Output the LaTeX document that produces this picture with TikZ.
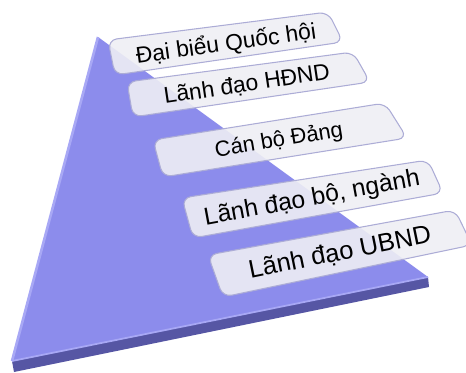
\documentclass[tikz,border=0pt]{standalone}
\usepackage{fontspec}
\setmainfont{Liberation Sans}
\definecolor{face}{RGB}{140,140,236}
\definecolor{facelight}{RGB}{168,168,245}
\definecolor{edge}{RGB}{86,86,164}
\definecolor{boxfill}{RGB}{238,238,244}
\definecolor{boxline}{RGB}{172,172,214}

\begin{document}
\begin{tikzpicture}[x=0.02cm, y=-0.02cm,
    box/.style={fill=boxfill, fill opacity=0.9, draw=boxline, line width=0.6pt, rounded corners=5pt},
    lbl/.style={text=black, inner sep=0pt}]
            \useasboundingbox (0,0) rectangle (466,372);

            %pyramid
            \coordinate (top) at (98,37);
            \coordinate (bl) at (12,361);
            \coordinate (br) at (428,277);
            \fill[face] (top) -- (br) -- (bl) -- cycle;
            \fill[edge] (bl) -- (br) -- (429,287) -- (14,372) -- cycle;
            \draw[facelight, line width=1pt] (bl) -- (br);
            \draw[facelight, line width=1.5pt] (top) -- (bl);

            %boxes
            \draw[box] (108,40) -- (328,12) -- (343,42) -- (115,75) -- cycle;
            \draw[box] (127,82) -- (353,52) -- (370,82) -- (133,117) -- cycle;
            \draw[box] (153,140) -- (385,103) -- (407,138) -- (163,177) -- cycle;
            \draw[box] (182,198) -- (428,160) -- (443,193) -- (193,238) -- cycle;
            \draw[box] (208,255) -- (455,210) -- (472,245) -- (223,297) -- cycle;

            %labels
            \node[lbl, rotate=8, font=\fontsize{13}{15}\selectfont] (dbqh) at (226,44) {Đại biểu Quốc hội};
            \node[lbl, rotate=8.5, font=\fontsize{13}{15}\selectfont] (hdnd) at (247,85) {Lãnh đạo HĐND};
            \node[lbl, rotate=9.5, font=\fontsize{12.5}{15}\selectfont] (cbd) at (279,141) {Cán bộ Đảng};
            \node[lbl, rotate=10.5, font=\fontsize{14}{16}\selectfont] (ldbn) at (312,199) {Lãnh đạo bộ, ngành};
            \node[lbl, rotate=11.5, font=\fontsize{14.5}{17}\selectfont] (ubnd) at (340,253) {Lãnh đạo UBND};
        \end{tikzpicture}
\end{document}
